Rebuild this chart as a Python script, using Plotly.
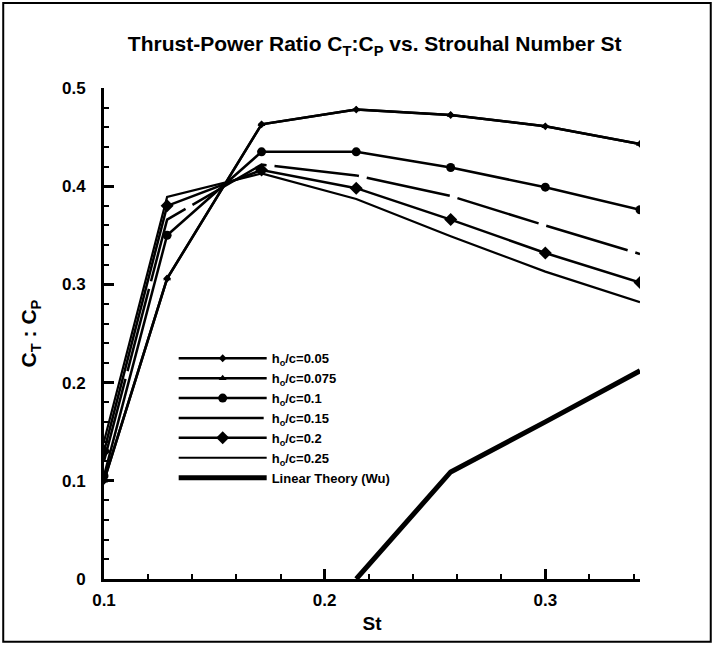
import plotly.graph_objects as go

st = [0.1, 0.1286, 0.1714, 0.2143, 0.2571, 0.3, 0.3429]
hc_005 = [0.100, 0.306, 0.463, 0.478, 0.4725, 0.461, 0.443]
hc_0075 = [0.100, 0.306, 0.463, 0.478, 0.4725, 0.461, 0.443]
hc_01 = [0.105, 0.350, 0.435, 0.435, 0.419, 0.399, 0.376]
hc_015 = [0.120, 0.366, 0.422, 0.411, 0.390, 0.360, 0.331]
hc_02 = [0.130, 0.380, 0.4165, 0.398, 0.366, 0.332, 0.302]
hc_025 = [0.140, 0.389, 0.413, 0.387, 0.349, 0.313, 0.282]
st_lin = [0.2143, 0.2571, 0.3, 0.3429]
lin_wu = [0.0, 0.109, 0.160, 0.212]

names = ["h<sub>o</sub>/c=0.05", "h<sub>o</sub>/c=0.075", "h<sub>o</sub>/c=0.1",
         "h<sub>o</sub>/c=0.15", "h<sub>o</sub>/c=0.2", "h<sub>o</sub>/c=0.25",
         "Linear Theory (Wu)"]

FONT = "Liberation Sans"

fig = go.Figure()
specs = [
    (st, hc_005, dict(width=2.5), dict(symbol="diamond", size=6)),
    (st, hc_0075, dict(width=2.5), dict(symbol="triangle-up", size=7)),
    (st, hc_01, dict(width=2.5), dict(symbol="circle", size=9)),
    (st, hc_015, dict(width=2.5, dash="85px,8px"), None),
    (st, hc_02, dict(width=2.5), dict(symbol="diamond", size=10)),
    (st, hc_025, dict(width=2.2), None),
    (st_lin, lin_wu, dict(width=5), None),
]
for (x, y, ln, mk), nm in zip(specs, names):
    ln = dict(ln, color="black")
    if mk:
        fig.add_trace(go.Scatter(x=x, y=y, name=nm, mode="lines+markers", line=ln,
                                 marker=dict(mk, color="black")))
    else:
        fig.add_trace(go.Scatter(x=x, y=y, name=nm, mode="lines", line=ln))

axis_common = dict(
    showline=True, linecolor="black", linewidth=3, ticks="inside", ticklen=10,
    tickwidth=3, tickcolor="black", showgrid=False, zeroline=False, dtick=0.1,
    tickfont=dict(size=17, color="black", family=FONT, weight="bold"),
    minor=dict(ticks="inside", ticklen=5, tickwidth=1.5, tickcolor="black", dtick=0.02,
               showgrid=False),
    mirror=False,
)
fig.update_xaxes(axis_common, range=[0.1, 0.3429], tick0=0.1, tickformat=".1f",
                 ticklabelstandoff=4,
                 title=dict(text="St", font=dict(size=19, color="black",
                                                 family=FONT, weight="bold"),
                            standoff=8))
fig.update_yaxes(axis_common, range=[0, 0.5], tick0=0, tickvals=[0, 0.1, 0.2, 0.3, 0.4, 0.5],
                 ticktext=["0", "0.1", "0.2", "0.3", "0.4", "0.5"], ticklabelstandoff=12,
                 title=dict(text="C<sub>T</sub> : C<sub>P</sub>",
                            font=dict(size=21, color="black", family=FONT,
                                      weight="bold"), standoff=20))

fig.update_layout(
    width=715, height=646,
    margin=dict(l=104, r=75, t=88, b=67),
    paper_bgcolor="white", plot_bgcolor="white",
    font=dict(family=FONT, color="black", weight="bold"),
    title=dict(text="Thrust-Power Ratio C<sub>T</sub>:C<sub>P</sub> vs. Strouhal Number St",
               font=dict(size=21, color="black", family=FONT, weight="bold"),
               x=0.524, xanchor="center", y=0.932, yanchor="middle"),
    legend=dict(x=0.13, y=0.48, xanchor="left", yanchor="top", bgcolor="rgba(0,0,0,0)",
                font=dict(size=13, color="black", family=FONT, weight="bold"),
                tracegroupgap=0, itemwidth=88),
    showlegend=True,
    shapes=[dict(type="rect", xref="paper", yref="paper", x0=-0.188, x1=1.132,
                 y0=-0.128, y1=1.173, line=dict(color="black", width=2))],
)

fig.write_html("out.html")
